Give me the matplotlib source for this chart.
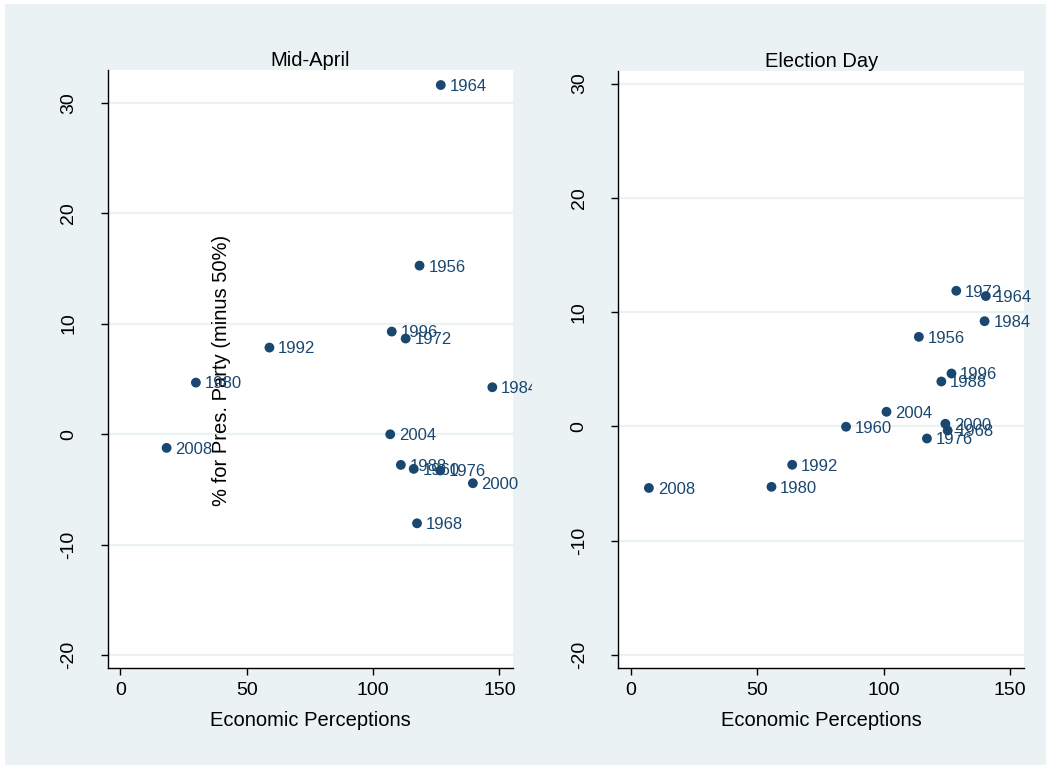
import matplotlib
matplotlib.use("Agg")
import matplotlib.pyplot as plt
from matplotlib.patches import Rectangle
from matplotlib.transforms import Bbox, TransformedBbox

plt.rcParams['font.family'] = ['Liberation Sans', 'DejaVu Sans']
plt.rcParams['axes.unicode_minus'] = False

# ---- data ----
years_april = ["1964", "1956", "1996", "1972", "1992", "1980", "1984", "2004",
               "2008", "1988", "1960", "1976", "2000", "1968"]
econ_april = [126.8, 118.4, 107.4, 112.9, 59.0, 29.9, 147.2, 106.8,
              18.3, 111.0, 116.1, 126.6, 139.5, 117.4]
vote_april = [31.6, 15.25, 9.28, 8.65, 7.83, 4.66, 4.24, -0.02,
              -1.25, -2.79, -3.15, -3.30, -4.45, -8.08]

years_elect = ["1972", "1964", "1984", "1956", "1996", "1988", "2004", "2000",
               "1968", "1976", "1960", "1992", "1980", "2008"]
econ_elect = [128.7, 140.4, 139.9, 113.9, 126.8, 122.8, 101.1, 124.4,
              125.3, 117.1, 85.1, 63.8, 55.6, 7.1]
vote_elect = [11.86, 11.4, 9.2, 7.83, 4.62, 3.92, 1.27, 0.22,
              -0.37, -1.07, -0.04, -3.37, -5.3, -5.4]

panel_titles = ["Mid-April", "Election Day"]
x_ticks = [0, 50, 100, 150]
y_ticks = [-20, -10, 0, 10, 20, 30]
x_title = "Economic Perceptions"
y_title = "% for Pres. Party (minus 50%)"

# ---- style ----
W, H = 1051, 769
BG = "#eaf2f3"
NAVY = "#1a476f"

fig = plt.figure(figsize=(W / 100, H / 100), dpi=100)
fig.patch.set_facecolor("white")
fig.patches.append(Rectangle((5 / W, 1 - 765 / H), (1046 - 5) / W, (765 - 4) / H,
                             transform=fig.transFigure, facecolor=BG,
                             edgecolor="none", zorder=-10))


def px_axes(l, t, r, b):
    return fig.add_axes([l / W, 1 - b / H, (r - l) / W, (b - t) / H])


ax1 = px_axes(107.7, 70, 513.3, 667.7)
ax2 = px_axes(618.3, 71, 1024, 668)
ylims = [(-21.15, 32.96), (-21.16, 31.1)]
clips = [531.7, 1046]

for ax, title, xs, ys, labs, yl, clipx in zip(
        [ax1, ax2], panel_titles,
        [econ_april, econ_elect], [vote_april, vote_elect],
        [years_april, years_elect], ylims, clips):
    ax.set_facecolor("white")
    ax.set_xlim(-5, 155.5)
    ax.set_ylim(*yl)
    for s in ["top", "right"]:
        ax.spines[s].set_visible(False)
    for s in ["left", "bottom"]:
        ax.spines[s].set_linewidth(1.0)
        ax.spines[s].set_color("black")
    ax.set_xticks(x_ticks)
    ax.set_yticks(y_ticks)
    ax.grid(axis="y", color=BG, linewidth=1.6, zorder=0)
    ax.set_axisbelow(True)
    ax.tick_params(axis="x", length=5, width=1, pad=5, labelsize=14)
    ax.tick_params(axis="y", length=5, width=1, pad=17, labelsize=14,
                   labelrotation=90)
    for lbl in ax.get_yticklabels():
        lbl.set_va("center")
    ax.set_title(title, fontsize=14.5, pad=3)
    ax.set_xlabel(x_title, fontsize=14.5)
    ax.xaxis.set_label_coords(0.5, -(720 - 667.7) / 597.7)
    ax.xaxis.label.set_va("center")
    ax.scatter(xs, ys, s=50, color=NAVY, edgecolors="none", zorder=3,
               clip_on=False)
    clipbox = TransformedBbox(Bbox([[0, 0], [clipx / W, 1]]), fig.transFigure)
    for x, y, t in zip(xs, ys, labs):
        a = ax.annotate(t, (x, y), xytext=(6.3, -1), textcoords="offset points",
                        ha="left", va="center", fontsize=12, color=NAVY,
                        annotation_clip=False, zorder=4)
        a.set_clip_on(True)
        a.set_clip_box(clipbox)

ax1.set_ylabel(y_title, fontsize=14.5)
ax1.yaxis.set_label_coords((221.7 - 107.7) / 405.6, (667.7 - 370) / 597.7)
ax1.yaxis.label.set_ha("center")
ax1.yaxis.label.set_va("center")

fig.savefig("out.png", dpi=100, facecolor=fig.get_facecolor())
